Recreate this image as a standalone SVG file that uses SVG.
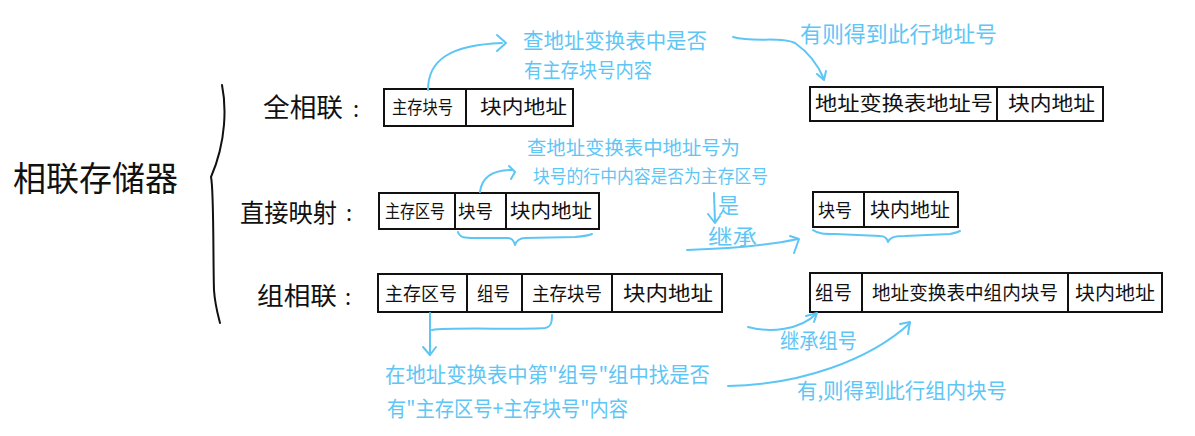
<svg xmlns="http://www.w3.org/2000/svg" width="1195" height="436" viewBox="0 0 1195 436">
<style>
.k{font-family:"Noto Sans CJK SC","Noto Sans",sans-serif;fill:#111}
.b{font-family:"Noto Sans CJK SC","Noto Sans",sans-serif;fill:#5ec6f5}
.box{fill:#fff;stroke:#111;stroke-width:2}
.div{stroke:#111;stroke-width:2}
.c{fill:none;stroke:#5ec6f5;stroke-width:2;stroke-linecap:round;stroke-linejoin:round}
.br{fill:none;stroke:#111;stroke-width:2;stroke-linecap:round}
</style>
<rect width="1195" height="436" fill="#fff"/>
<g id="title">
<text class="k" x="13" y="191" font-size="34" textLength="165" lengthAdjust="spacingAndGlyphs">相联存储器</text>
</g>
<g id="brace">
<path class="br" d="M222,85 C226,105 227,140 211,177 C214,190 213,260 214,290 C215,305 218,315 220,323"/>
</g>
<g id="label-full">
<text class="k" x="263" y="117" font-size="26" textLength="80" lengthAdjust="spacingAndGlyphs">全相联</text>
<text class="k" x="353" y="117" font-size="22">:</text>
</g>
<g id="label-direct">
<text class="k" x="240" y="222" font-size="25" textLength="97" lengthAdjust="spacingAndGlyphs">直接映射</text>
<text class="k" x="346" y="221" font-size="22">:</text>
</g>
<g id="label-group">
<text class="k" x="257" y="305" font-size="25" textLength="80" lengthAdjust="spacingAndGlyphs">组相联</text>
<text class="k" x="345" y="305" font-size="22">:</text>
</g>
<g id="box-full">
<rect class="box" x="384" y="89" width="189" height="37"/>
<line class="div" x1="466" y1="89" x2="466" y2="126"/>
<text class="k" x="392" y="114" font-size="18" textLength="61" lengthAdjust="spacingAndGlyphs">主存块号</text>
<text class="k" x="480" y="114" font-size="19" textLength="87" lengthAdjust="spacingAndGlyphs">块内地址</text>
</g>
<g id="box-full-result">
<rect class="box" x="810" y="87" width="293" height="34"/>
<line class="div" x1="997" y1="87" x2="997" y2="121"/>
<text class="k" x="815" y="111" font-size="20" textLength="178" lengthAdjust="spacingAndGlyphs">地址变换表地址号</text>
<text class="k" x="1008" y="111" font-size="20" textLength="87" lengthAdjust="spacingAndGlyphs">块内地址</text>
</g>
<g id="box-direct">
<rect class="box" x="379" y="193" width="220" height="36"/>
<line class="div" x1="455" y1="193" x2="455" y2="229"/>
<line class="div" x1="506" y1="193" x2="506" y2="229"/>
<text class="k" x="385" y="218" font-size="18" textLength="60" lengthAdjust="spacingAndGlyphs">主存区号</text>
<text class="k" x="458" y="218" font-size="18" textLength="35" lengthAdjust="spacingAndGlyphs">块号</text>
<text class="k" x="510" y="218" font-size="19" textLength="82" lengthAdjust="spacingAndGlyphs">块内地址</text>
</g>
<g id="box-direct-result">
<rect class="box" x="813" y="192" width="145" height="35"/>
<line class="div" x1="864" y1="192" x2="864" y2="227"/>
<text class="k" x="818" y="217" font-size="18" textLength="34" lengthAdjust="spacingAndGlyphs">块号</text>
<text class="k" x="870" y="217" font-size="19" textLength="80" lengthAdjust="spacingAndGlyphs">块内地址</text>
</g>
<g id="box-group">
<rect class="box" x="378" y="274" width="344" height="38"/>
<line class="div" x1="467" y1="274" x2="467" y2="312"/>
<line class="div" x1="522" y1="274" x2="522" y2="312"/>
<line class="div" x1="612" y1="274" x2="612" y2="312"/>
<text class="k" x="385" y="301" font-size="19" textLength="72" lengthAdjust="spacingAndGlyphs">主存区号</text>
<text class="k" x="477" y="301" font-size="19" textLength="33" lengthAdjust="spacingAndGlyphs">组号</text>
<text class="k" x="532" y="301" font-size="19" textLength="70" lengthAdjust="spacingAndGlyphs">主存块号</text>
<text class="k" x="623" y="301" font-size="20" textLength="90" lengthAdjust="spacingAndGlyphs">块内地址</text>
</g>
<g id="box-group-result">
<rect class="box" x="810" y="273" width="352" height="39"/>
<line class="div" x1="862" y1="273" x2="862" y2="312"/>
<line class="div" x1="1068" y1="273" x2="1068" y2="312"/>
<text class="k" x="815" y="300" font-size="19" textLength="37" lengthAdjust="spacingAndGlyphs">组号</text>
<text class="k" x="872" y="300" font-size="19" textLength="186" lengthAdjust="spacingAndGlyphs">地址变换表中组内块号</text>
<text class="k" x="1075" y="300" font-size="19" textLength="80" lengthAdjust="spacingAndGlyphs">块内地址</text>
</g>
<g id="notes">
<text class="b" x="523" y="48" font-size="21" textLength="184" lengthAdjust="spacingAndGlyphs">查地址变换表中是否</text>
<text class="b" x="524" y="78" font-size="20" textLength="128" lengthAdjust="spacingAndGlyphs">有主存块号内容</text>
<text class="b" x="800" y="42" font-size="22" textLength="197" lengthAdjust="spacingAndGlyphs">有则得到此行地址号</text>
<text class="b" x="527" y="155" font-size="19" textLength="213" lengthAdjust="spacingAndGlyphs">查地址变换表中地址号为</text>
<text class="b" x="533" y="183" font-size="18" textLength="235" lengthAdjust="spacingAndGlyphs">块号的行中内容是否为主存区号</text>
<text class="b" x="718" y="213" font-size="21">是</text>
<text class="b" x="708" y="244" font-size="21" textLength="49" lengthAdjust="spacingAndGlyphs">继承</text>
<text class="b" x="385" y="382" font-size="21" textLength="325" lengthAdjust="spacingAndGlyphs">在地址变换表中第"组号"组中找是否</text>
<text class="b" x="387" y="416" font-size="21" textLength="241" lengthAdjust="spacingAndGlyphs">有"主存区号+主存块号"内容</text>
<text class="b" x="780" y="348" font-size="21" textLength="77" lengthAdjust="spacingAndGlyphs">继承组号</text>
<text class="b" x="797" y="398" font-size="21" textLength="210" lengthAdjust="spacingAndGlyphs">有,则得到此行组内块号</text>
</g>
<g id="connectors">
<path class="c" d="M428,90 C428,60 450,45 502,43"/>
<polyline class="c" points="497,35 506,43 497,51"/>
<path class="c" d="M733,37 C755,43 780,36 795,43 C808,52 818,65 824,79"/>
<polyline class="c" points="817,74 824,80 826,71"/>
<path class="c" d="M480,192 C482,175 495,170 512,170"/>
<polyline class="c" points="509,166 515,172 511,179"/>
<path class="c" d="M458,232 C460,238 465,238 475,238 L508,238 C512,238 514,241 515,245 C516,241 520,238 525,238 L575,237 C585,236 590,235 592,234"/>
<path class="c" d="M813,230 C818,234 825,234 835,234 L880,236 C885,236 887,238 888,242 C890,237 895,236 905,236 L950,234 C955,233 958,232 960,231"/>
<path class="c" d="M714,193 L715,222"/>
<polyline class="c" points="708,214 715,223 720,216"/>
<path class="c" d="M687,250 C720,249 760,247 798,239"/>
<polyline class="c" points="790,236 799,239 794,253"/>
<path class="c" d="M430,313 L430,355"/>
<polyline class="c" points="423,347 430,355 436,347"/>
<path class="c" d="M432,330 C450,327 520,330 545,328 C552,327 552,320 552,315"/>
<path class="c" d="M748,327 C770,333 800,330 816,314"/>
<polyline class="c" points="806,316 817,313 814,322"/>
<path class="c" d="M728,386 C800,385 870,360 910,323"/>
<polyline class="c" points="900,324 910,322 908,334"/>
</g>
</svg>
